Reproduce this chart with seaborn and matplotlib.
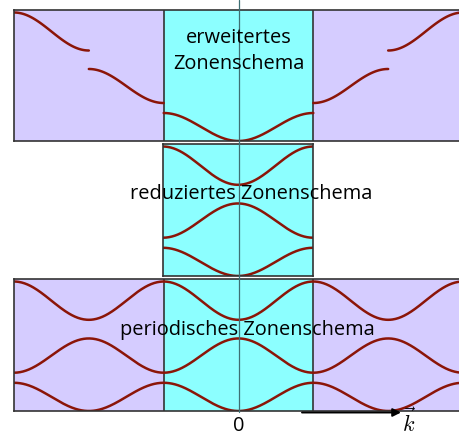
import numpy as np
import pandas as pd
import matplotlib
matplotlib.use("Agg")
import matplotlib.pyplot as plt
import seaborn as sns

sns.set_theme(style="white")
plt.rcParams['font.family'] = ['Open Sans', 'DejaVu Sans']
plt.rcParams['mathtext.fontset'] = 'cm'

# ---- data (band edges in energy units) ----
band_names = ["Band 1", "Band 2", "Band 3"]
band_low = [0.0, 38.0, 90.5]      # energy at band bottom
band_high = [28.0, 72.0, 128.5]   # energy at band top
# reduced zone: odd bands have their minimum at k=0, even bands their maximum
band_min_at_zero = [True, False, True]
panel_titles = ["erweitertes\nZonenschema", "reduziertes Zonenschema", "periodisches Zonenschema"]
tick_zero = "0"
k_label = r"$\vec{k}$"

PURPLE = "#d5ccff"
CYAN = "#8cffff"
CURVE = "#8b1508"
FRAME = "#333333"

W, H = 459, 436
fig = plt.figure(figsize=(W / 100, H / 100), dpi=100)


def px_axes(x0, y0, x1, y1):
    return fig.add_axes([x0 / W, 1 - y1 / H, (x1 - x0) / W, (y1 - y0) / H])


def band(k, n):
    lo, hi = band_low[n], band_high[n]
    mid, amp = (lo + hi) / 2, (hi - lo) / 2
    if band_min_at_zero[n]:
        return mid - amp * np.cos(np.pi * k)
    return mid + amp * np.cos(np.pi * k)


def draw_curve(ax, k, e):
    df = pd.DataFrame({"k": k, "E": e})
    sns.lineplot(data=df, x="k", y="E", ax=ax, color=CURVE, lw=1.8,
                 sort=False, estimator=None, legend=False)


def style(ax, xlim):
    ax.set_xlim(*xlim)
    ax.set_ylim(0, 131)
    ax.set_xticks([])
    ax.set_yticks([])
    ax.set_xlabel("")
    ax.set_ylabel("")
    for s in ax.spines.values():
        s.set_color(FRAME)
        s.set_linewidth(1.2)
        s.set_visible(True)


# ---- top panel: extended zone scheme ----
ax1 = px_axes(14, 10, 463, 141)
ax1.axvspan(-3, -1, color=PURPLE, lw=0)
ax1.axvspan(1, 3, color=PURPLE, lw=0)
ax1.axvspan(-1, 1, color=CYAN, lw=0)
for xv in (-1, 1):
    ax1.axvline(xv, color=FRAME, lw=1.2)
for n in range(3):
    if n == 0:
        k = np.linspace(-1, 1, 200)
        draw_curve(ax1, k, band(k, n))
        continue
    for sgn in (-1, 1):
        k = sgn * np.linspace(n, n + 1, 120)
        draw_curve(ax1, k, band(k, n))
style(ax1, (-3, 3))

# ---- middle panel: reduced zone scheme ----
ax2 = px_axes(163, 144, 313, 276)
ax2.axvspan(-1, 1, color=CYAN, lw=0)
for n in range(3):
    k = np.linspace(-1, 1, 200)
    draw_curve(ax2, k, band(k, n))
style(ax2, (-1, 1))

# ---- bottom panel: periodic zone scheme ----
ax3 = px_axes(14, 279, 463, 411)
ax3.axvspan(-3, -1, color=PURPLE, lw=0)
ax3.axvspan(1, 3, color=PURPLE, lw=0)
ax3.axvspan(-1, 1, color=CYAN, lw=0)
for xv in (-1, 1):
    ax3.axvline(xv, color=FRAME, lw=1.2)
for n in range(3):
    k = np.linspace(-3, 3, 600)
    draw_curve(ax3, k, band(k, n))
style(ax3, (-3, 3))

# ---- central k=0 line across all panels ----
fig.add_artist(plt.Line2D([239.5 / W, 239.5 / W], [1 - 0 / H, 1 - 412 / H],
                          color="#3d6f73", lw=0.9, transform=fig.transFigure, zorder=5))

# ---- texts ----
def ftext(x, y, s, **kw):
    fig.text(x / W, 1 - y / H, s, ha="center", va="center", color="black", zorder=10, **kw)

FS = 14.4
ftext(239, 38, "erweitertes", fontsize=FS)
ftext(239, 64, "Zonenschema", fontsize=FS)
ftext(251, 194, panel_titles[1], fontsize=FS)
ftext(247, 330, panel_titles[2], fontsize=FS)
ftext(239, 426, tick_zero, fontsize=FS)
ftext(409, 423, k_label, fontsize=16)

fig.add_artist(matplotlib.patches.FancyArrowPatch(
    (302 / W, 1 - 412.5 / H), (401 / W, 1 - 412.5 / H), transform=fig.transFigure,
    arrowstyle="-|>", mutation_scale=12, color="black", lw=1.4, zorder=10,
    shrinkA=0, shrinkB=0))

fig.savefig("out.png", dpi=100)
